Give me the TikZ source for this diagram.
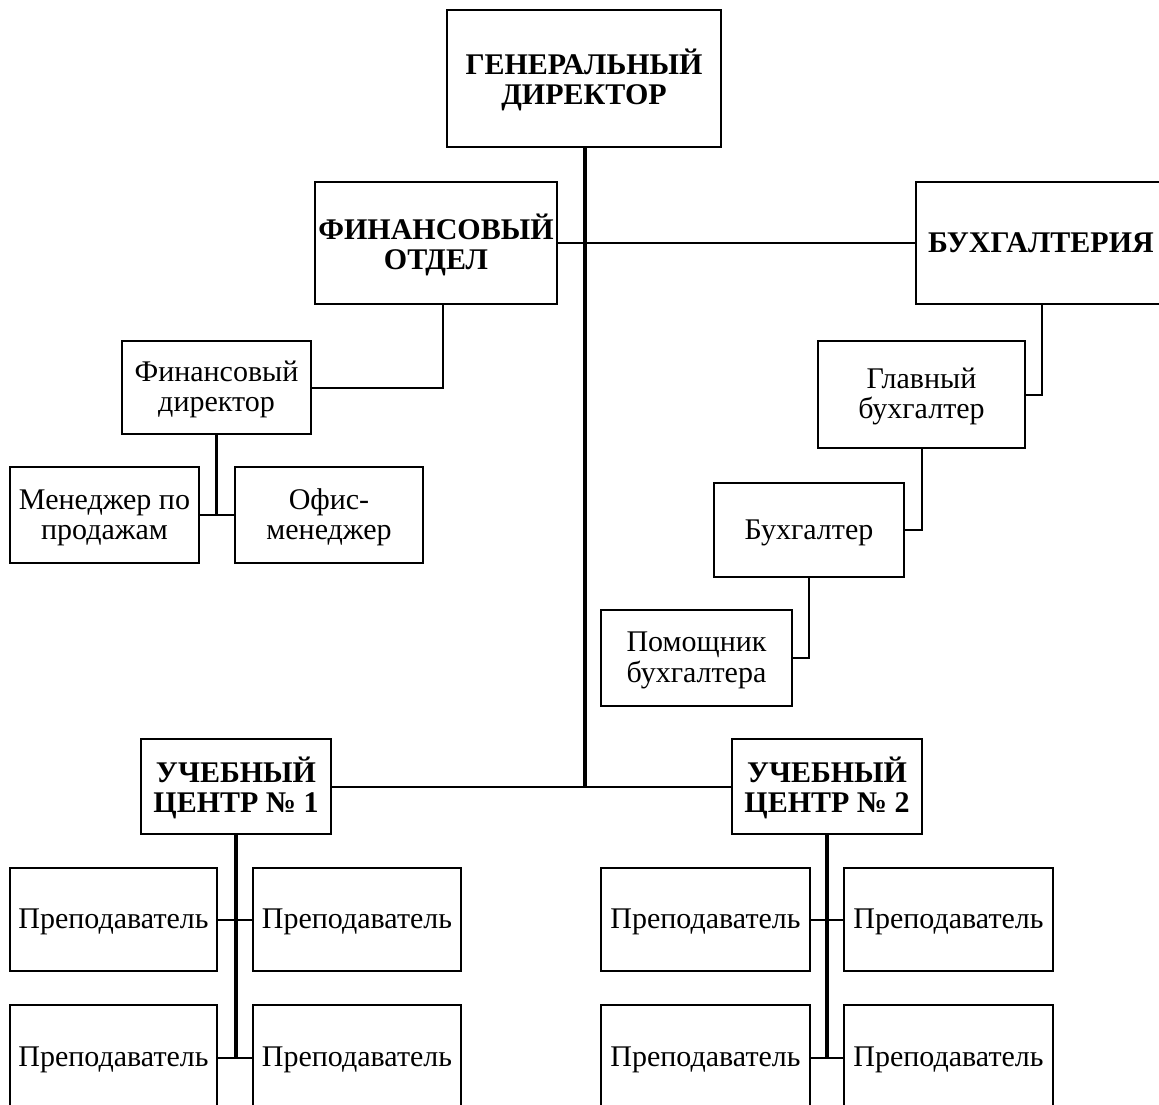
\documentclass[tikz,border=0pt]{standalone}
\usepackage{fontspec}
\setmainfont{Liberation Serif}
\newcommand\boxtext[1]{\raisebox{-3pt}[\height][\depth]{\begin{tabular}{@{}c@{}}#1\end{tabular}}}
\begin{document}
\begin{tikzpicture}[x=1pt,y=-1pt,
  box/.style={draw=black, line width=1.8pt, rectangle, inner sep=0pt,
     font=\fontsize{30}{30}\selectfont},
  head/.style={box, font=\fontsize{30}{30}\selectfont\bfseries},
  link/.style={draw=black, line width=2pt},
  trunk/.style={draw=black, line width=3.2pt}]
\useasboundingbox (0,0) rectangle (1159,1104);
\begin{scope}
\clip (0,0) rectangle (1159,1104);
% top level
\node[head, minimum width=274pt, minimum height=137pt] (gd) at (584,78.5) {\boxtext{ГЕНЕРАЛЬНЫЙ\\ДИРЕКТОР}};
\node[head, minimum width=242pt, minimum height=122pt] (fo) at (436,243) {\boxtext{ФИНАНСОВЫЙ\\ОТДЕЛ}};
\node[head, minimum width=250pt, minimum height=122pt] (bu) at (1041,243) {\boxtext{БУХГАЛТЕРИЯ}};
% finance branch
\node[box, minimum width=189pt, minimum height=93pt] (fd) at (216.5,387.5) {\boxtext{Финансовый\\директор}};
\node[box, minimum width=189pt, minimum height=96pt] (mp) at (104.5,515) {\boxtext{Менеджер по\\продажам}};
\node[box, minimum width=188pt, minimum height=96pt] (om) at (329,515) {\boxtext{Офис-\\менеджер}};
% accounting branch
\node[box, minimum width=207pt, minimum height=107pt] (gb) at (921.5,394.5) {\boxtext{Главный\\бухгалтер}};
\node[box, minimum width=190pt, minimum height=94pt] (bh) at (809,530) {\boxtext{Бухгалтер}};
\node[box, minimum width=191pt, minimum height=96pt] (pb) at (696.5,658) {\boxtext{Помощник\\бухгалтера}};
% training centres
\node[head, minimum width=190pt, minimum height=95pt] (uc1) at (236,786.5) {\boxtext{УЧЕБНЫЙ\\ЦЕНТР № 1}};
\node[head, minimum width=190pt, minimum height=95pt] (uc2) at (827,786.5) {\boxtext{УЧЕБНЫЙ\\ЦЕНТР № 2}};
% teachers
\node[box, minimum width=207pt, minimum height=103pt] (p11) at (113.5,919.5) {\boxtext{Преподаватель}};
\node[box, minimum width=208pt, minimum height=103pt] (p12) at (357,919.5) {\boxtext{Преподаватель}};
\node[box, minimum width=207pt, minimum height=105pt] (p13) at (113.5,1057.5) {\boxtext{Преподаватель}};
\node[box, minimum width=208pt, minimum height=105pt] (p14) at (357,1057.5) {\boxtext{Преподаватель}};
\node[box, minimum width=209pt, minimum height=103pt] (p21) at (705.5,919.5) {\boxtext{Преподаватель}};
\node[box, minimum width=209pt, minimum height=103pt] (p22) at (948.5,919.5) {\boxtext{Преподаватель}};
\node[box, minimum width=209pt, minimum height=105pt] (p23) at (705.5,1057.5) {\boxtext{Преподаватель}};
\node[box, minimum width=209pt, minimum height=105pt] (p24) at (948.5,1057.5) {\boxtext{Преподаватель}};
% connectors
\coordinate (hub) at ([xshift=1pt]gd.south |- uc1.east);
\draw[trunk] ([xshift=1pt]gd.south) -- (hub);
\draw[link] (uc1.east) -- (uc2.west);
\draw[link] (fo.east) -- (bu.west);
\draw[link] ([xshift=7pt]fo.south) |- (fd.east);
\draw[link] ([xshift=1pt]bu.south) |- (gb.east);
\draw[link] (gb.south) |- (bh.east);
\draw[link] (bh.south) |- (pb.east);
\coordinate (fdj) at (fd.south |- mp.east);
\draw[trunk, line width=3.6pt] (fd.south) -- (fdj);
\draw[link] (mp.east) -- (om.west);
\coordinate (uj1) at (uc1.south |- p13.east);
\draw[trunk] (uc1.south) -- (uj1);
\draw[link] (p11.east) -- (p12.west);
\draw[link] (p13.east) -- (p14.west);
\coordinate (uj2) at (uc2.south |- p23.east);
\draw[trunk] (uc2.south) -- (uj2);
\draw[link] (p21.east) -- (p22.west);
\draw[link] (p23.east) -- (p24.west);
\end{scope}
\end{tikzpicture}
\end{document}
